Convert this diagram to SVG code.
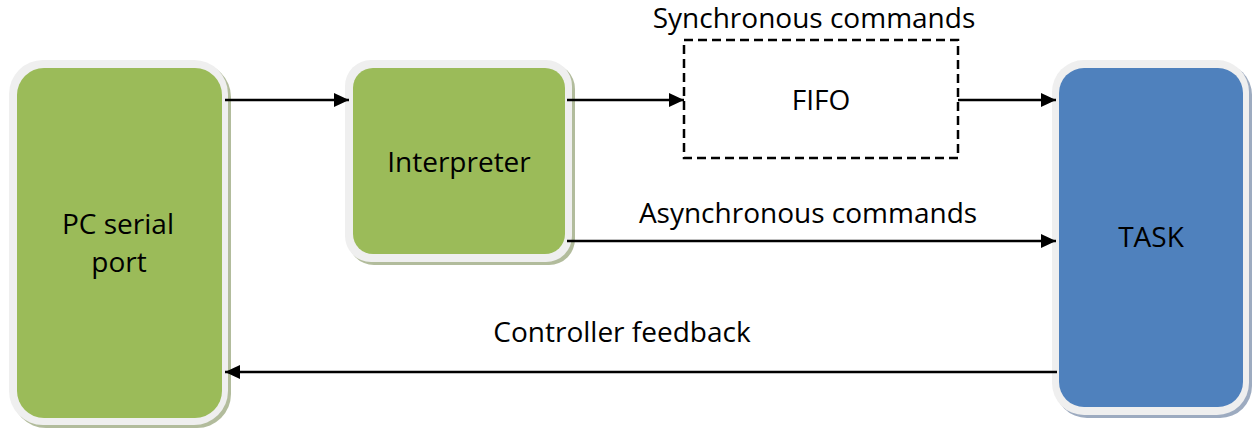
<svg xmlns="http://www.w3.org/2000/svg" width="1254" height="429" viewBox="0 0 1254 429">
  <style>
    .frame { fill: #efefef; }
    .shadow-g { fill: #b2bc9c; }
    .shadow-b { fill: #9dabc0; }
    .green { fill: #9bbb59; }
    .blue { fill: #4f81bd; }
    .lbl { font-family: "Open Sans", "Liberation Sans", sans-serif; font-size: 28px; fill: #000; text-anchor: middle; }
    .wire { stroke: #000; stroke-width: 2.5; fill: none; }
  </style>
  <defs>
    <marker id="arrow" markerWidth="15" markerHeight="14" refX="15" refY="7" orient="auto" markerUnits="userSpaceOnUse">
      <path d="M0,0 L15,7 L0,14 Z" fill="#000"/>
    </marker>
  </defs>

  <rect width="1254" height="429" fill="#fff"/>

  <!-- PC serial port -->
  <g id="pc">
    <rect class="shadow-g" x="12" y="63" width="219" height="365" rx="34"/>
    <rect class="frame" x="9" y="60" width="219" height="365" rx="34"/>
    <rect class="green" x="17" y="68" width="205" height="350" rx="27"/>
    <text class="lbl" x="118" y="234">PC serial</text>
    <text class="lbl" x="119" y="272">port</text>
  </g>

  <!-- Interpreter -->
  <g id="interpreter">
    <rect class="shadow-g" x="348" y="63" width="227" height="202" rx="26"/>
    <rect class="frame" x="345" y="60" width="227" height="202" rx="26"/>
    <rect class="green" x="353" y="68" width="212" height="186" rx="20"/>
    <text class="lbl" x="459" y="172">Interpreter</text>
  </g>

  <!-- FIFO -->
  <g id="fifo">
    <rect x="684" y="40" width="274" height="118" fill="none" stroke="#000" stroke-width="2.5" stroke-dasharray="9,5"/>
    <text class="lbl" x="821" y="110">FIFO</text>
  </g>

  <!-- TASK -->
  <g id="task">
    <rect class="shadow-b" x="1055" y="63" width="197" height="355" rx="32"/>
    <rect class="frame" x="1052" y="60" width="197" height="355" rx="32"/>
    <rect class="blue" x="1059" y="68" width="184" height="339" rx="25"/>
    <text class="lbl" x="1151" y="247">TASK</text>
  </g>

  <!-- Connectors -->
  <g id="connectors">
    <line class="wire" x1="225" y1="100" x2="349" y2="100" marker-end="url(#arrow)"/>
    <line class="wire" x1="567" y1="100" x2="684" y2="100" marker-end="url(#arrow)"/>
    <line class="wire" x1="958" y1="100" x2="1056" y2="100" marker-end="url(#arrow)"/>
    <line class="wire" x1="567" y1="241" x2="1056" y2="241" marker-end="url(#arrow)"/>
    <line class="wire" x1="1057" y1="372" x2="225" y2="372" marker-end="url(#arrow)"/>
    <text class="lbl" x="814" y="28">Synchronous commands</text>
    <text class="lbl" x="808" y="223">Asynchronous commands</text>
    <text class="lbl" x="622" y="342">Controller feedback</text>
  </g>
</svg>
